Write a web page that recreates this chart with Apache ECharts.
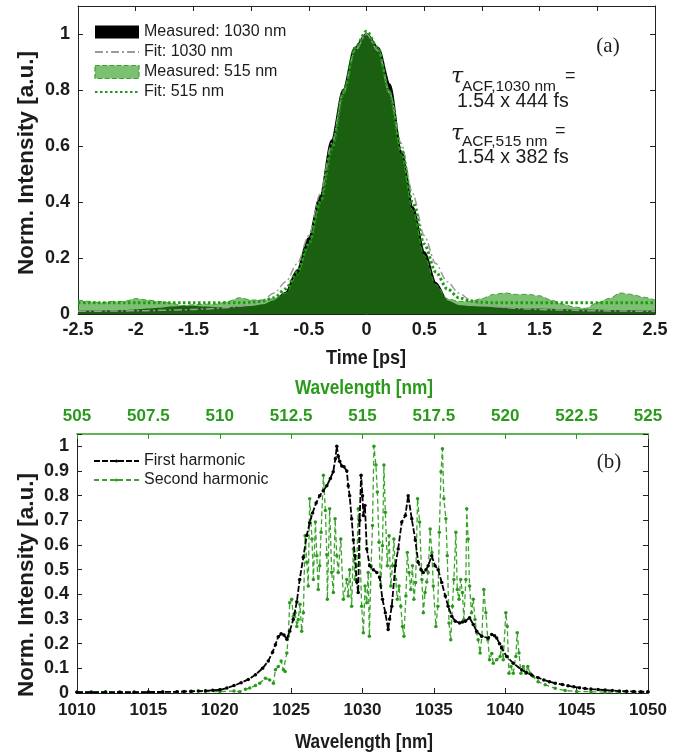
<!DOCTYPE html>
<html>
<head>
<meta charset="utf-8">
<script src="https://cdn.jsdelivr.net/npm/echarts@6/dist/echarts.min.js"></script>
<style>
  html, body { margin: 0; padding: 0; background: #fff; }
  #main { width: 686px; height: 755px; }
</style>
</head>
<body>
<div id="main"></div>
<script>
// ---- panel (a): autocorrelation ----
const timePs = [-2.5,-2.4,-2.3,-2.2,-2.1,-2.0,-1.9,-1.8,-1.7,-1.6,-1.5,-1.4,-1.3,-1.2,-1.1,-1.0,-0.9,-0.8,-0.7,-0.6,-0.5,-0.4,-0.3,-0.2,-0.1,0,
  0.1,0.2,0.3,0.4,0.5,0.6,0.7,0.8,0.9,1.0,1.1,1.2,1.3,1.4,1.5,1.6,1.7,1.8,1.9,2.0,2.1,2.2,2.3,2.4,2.5];
const meas1030 = [0.008,0.008,0.008,0.009,0.010,0.012,0.015,0.018,0.022,0.025,0.025,0.022,0.020,0.020,0.022,0.024,0.030,0.045,0.075,0.155,0.27,0.42,0.62,0.80,0.95,1.0,
  0.95,0.82,0.58,0.38,0.22,0.11,0.045,0.028,0.024,0.022,0.020,0.018,0.017,0.016,0.015,0.014,0.013,0.012,0.012,0.011,0.010,0.010,0.009,0.008,0.008];
const fit1030 = [0.010,0.010,0.010,0.011,0.011,0.012,0.012,0.013,0.014,0.015,0.016,0.018,0.020,0.023,0.028,0.035,0.050,0.075,0.115,0.18,0.28,0.43,0.61,0.79,0.94,1.0,
  0.94,0.79,0.61,0.43,0.28,0.18,0.115,0.075,0.050,0.035,0.028,0.023,0.020,0.018,0.016,0.015,0.014,0.013,0.012,0.012,0.011,0.011,0.010,0.010,0.010];
const meas515 = [0.05,0.045,0.04,0.045,0.045,0.055,0.05,0.045,0.04,0.03,0.033,0.035,0.035,0.045,0.058,0.05,0.05,0.055,0.075,0.14,0.25,0.40,0.60,0.80,0.95,1.0,
  0.95,0.80,0.57,0.37,0.21,0.105,0.055,0.045,0.045,0.055,0.07,0.075,0.07,0.07,0.065,0.05,0.035,0.025,0.02,0.04,0.055,0.075,0.07,0.06,0.05];
const fit515 = [0.04,0.04,0.04,0.04,0.04,0.04,0.04,0.04,0.04,0.04,0.04,0.04,0.04,0.04,0.04,0.042,0.046,0.058,0.09,0.15,0.25,0.40,0.59,0.79,0.95,1.01,
  0.95,0.79,0.59,0.40,0.25,0.15,0.09,0.058,0.046,0.042,0.04,0.04,0.04,0.04,0.04,0.04,0.04,0.04,0.04,0.04,0.04,0.04,0.04,0.04,0.04];

// ---- panel (b): spectra ----
// first harmonic, [wavelength nm, norm. intensity]
const fhPoints = [[1010,0.003],[1011,0.003],[1012,0.003],[1013,0.003],[1014,0.003],[1015,0.004],[1016,0.004],[1017,0.005],[1017.5,0.006],[1018,0.007],[1018.5,0.008],
  [1019,0.009],[1019.5,0.011],[1020,0.013],[1020.5,0.02],[1021,0.03],[1021.5,0.042],[1022,0.055],[1022.5,0.074],[1023,0.1],[1023.4,0.13],[1023.7,0.165],
  [1023.9,0.196],[1024.1,0.228],[1024.3,0.24],[1024.5,0.235],[1024.7,0.218],[1024.9,0.25],[1025.15,0.298],[1025.4,0.37],[1025.6,0.46],[1025.85,0.55],
  [1026.1,0.64],[1026.3,0.69],[1026.5,0.73],[1026.75,0.77],[1027.0,0.80],[1027.25,0.82],[1027.5,0.84],[1027.75,0.87],[1027.95,0.897],[1028.1,0.95],
  [1028.2,1.0],[1028.3,0.96],[1028.4,0.94],[1028.55,0.92],[1028.7,0.917],[1028.9,0.90],[1029.0,0.84],[1029.1,0.80],[1029.24,0.706],[1029.36,0.62],
  [1029.47,0.556],[1029.6,0.45],[1029.7,0.407],[1029.8,0.70],[1029.9,0.883],[1030.0,0.80],[1030.06,0.72],[1030.17,0.76],[1030.3,0.584],[1030.5,0.516],
  [1030.76,0.50],[1031.0,0.489],[1031.2,0.468],[1031.4,0.38],[1031.6,0.325],[1031.8,0.257],[1031.9,0.30],[1032.05,0.352],[1032.3,0.516],[1032.5,0.584],
  [1032.75,0.693],[1033.0,0.72],[1033.2,0.80],[1033.45,0.706],[1033.7,0.62],[1033.9,0.53],[1034.1,0.50],[1034.26,0.489],[1034.45,0.50],[1034.6,0.516],
  [1034.85,0.556],[1035.08,0.516],[1035.3,0.50],[1035.55,0.448],[1035.8,0.393],[1036.0,0.352],[1036.25,0.311],[1036.5,0.291],[1036.8,0.284],[1037.0,0.288],
  [1037.2,0.291],[1037.5,0.305],[1037.76,0.278],[1038.0,0.25],[1038.35,0.23],[1038.8,0.223],[1039.05,0.237],[1039.25,0.232],[1039.4,0.223],[1039.6,0.2],
  [1039.75,0.182],[1040.1,0.148],[1040.56,0.121],[1041.15,0.094],[1041.5,0.082],[1041.85,0.073],[1042.3,0.062],[1042.7,0.053],[1043.1,0.046],[1043.5,0.04],
  [1044.0,0.034],[1044.4,0.029],[1044.8,0.025],[1045.2,0.021],[1045.6,0.018],[1046,0.016],[1046.5,0.014],[1047,0.012],[1047.5,0.01],[1048,0.008],
  [1048.5,0.007],[1049,0.006],[1049.5,0.005],[1050,0.005]];
// second harmonic, [wavelength nm (top axis), norm. intensity]
const shPoints = [[505,0.005],[505.5,0.004],[506,0.005],[506.5,0.004],[507,0.004],[507.5,0.005],[508,0.005],[508.5,0.004],[509,0.005],[509.5,0.006],
  [510,0.006],[510.5,0.008],[510.7,0.005],[510.9,0.015],[511.05,0.02],
  [511.25,0.03],[511.4,0.04],[511.6,0.06],[511.75,0.053],[511.88,0.04],[511.95,0.094],[512.05,0.107],[512.15,0.13],[512.23,0.094],[512.29,0.087],
  [512.35,0.162],[512.4,0.23],[512.45,0.366],[512.52,0.38],[512.58,0.31],[512.64,0.325],[512.7,0.27],[512.75,0.298],[512.81,0.36],[512.87,0.25],
  [512.93,0.325],[512.99,0.638],[513.05,0.53],[513.1,0.434],[513.15,0.788],[513.23,0.624],[513.28,0.46],[513.35,0.693],[513.4,0.556],[513.45,0.42],
  [513.5,0.516],[513.55,0.652],[513.63,0.883],[513.7,0.74],[513.75,0.56],[513.77,0.38],[513.85,0.747],[513.92,0.49],[513.98,0.407],[514.04,0.706],
  [514.1,0.556],[514.15,0.489],[514.24,0.624],[514.33,0.38],[514.45,0.46],[514.5,0.393],[514.55,0.5],[514.62,0.352],[514.68,0.584],[514.74,0.46],
  [514.8,0.516],[514.85,0.747],[514.9,0.624],[514.97,0.352],[515.03,0.244],[515.09,0.434],[515.15,0.366],[515.2,0.489],[515.24,0.23],[515.3,0.516],
  [515.35,0.679],[515.4,1.0],[515.47,0.924],[515.52,0.815],[515.58,0.611],[515.64,0.434],[515.7,0.597],[515.75,0.924],[515.8,0.733],[515.87,0.516],
  [515.93,0.638],[515.99,0.434],[516.05,0.516],[516.1,0.624],[516.16,0.46],[516.22,0.38],[516.28,0.434],[516.34,0.352],[516.4,0.27],[516.45,0.23],
  [516.52,0.393],[516.57,0.57],[516.63,0.489],[516.69,0.42],[516.75,0.516],[516.8,0.38],[516.86,0.448],[516.93,0.788],[517.0,0.693],[517.08,0.46],
  [517.13,0.325],[517.19,0.407],[517.25,0.45],[517.3,0.489],[517.37,0.665],[517.43,0.57],[517.48,0.434],[517.57,0.27],[517.64,0.352],[517.69,0.652],
  [517.75,0.897],[517.8,0.99],[517.85,0.788],[517.92,0.706],[517.97,0.556],[518.03,0.284],[518.09,0.216],[518.15,0.352],[518.2,0.46],[518.27,0.652],
  [518.32,0.42],[518.38,0.38],[518.44,0.46],[518.5,0.407],[518.55,0.298],[518.62,0.46],[518.65,0.747],[518.7,0.624],[518.75,0.434],[518.82,0.325],
  [518.88,0.38],[518.94,0.298],[519.0,0.244],[519.05,0.216],[519.12,0.162],[519.18,0.23],[519.25,0.42],[519.32,0.325],[519.39,0.216],[519.45,0.135],
  [519.53,0.16],[519.58,0.121],[519.7,0.135],[519.82,0.148],[519.88,0.189],[519.93,0.135],[520.02,0.325],[520.07,0.27],[520.13,0.08],[520.2,0.107],
  [520.28,0.08],[520.37,0.148],[520.42,0.244],[520.48,0.162],[520.55,0.08],[520.63,0.107],[520.72,0.08],[520.79,0.107],[520.87,0.08],[520.98,0.067],
  [521.15,0.046],[521.4,0.033],[521.75,0.019],[522.1,0.01],[522.5,0.006],[523,0.005],[523.5,0.004],[524,0.004],[524.5,0.004],[525,0.004]];

const GREEN = '#2a9a1c';
const TXT = '#1c1c1c';
const SANS = "'Liberation Sans',Arial,sans-serif";

const chart = echarts.init(document.getElementById('main'), null, { renderer: 'canvas' });

function pairs(xs, ys) {
  return xs.map((x, i) => [x, ys[i]]);
}
function boxAxis(extra) {
  return Object.assign({
    type: 'value',
    splitLine: { show: false },
    axisLine: { onZero: false, lineStyle: { color: '#222', width: 1 } },
    axisTick: { inside: true, length: 5, lineStyle: { color: '#222' } },
    axisLabel: { show: false }
  }, extra);
}
function centered(x, y, text, font, fill, rot, sx) {
  return { type: 'text', x: x, y: y, rotation: rot || 0, scaleX: sx || 1,
    style: { text: text, font: font, fill: fill, align: 'center', verticalAlign: 'middle', textAlign: 'center', textVerticalAlign: 'middle' } };
}
function leftText(x, y, text, font) {
  return { type: 'text', x: x, y: y,
    style: { text: text, font: font, fill: TXT, verticalAlign: 'middle', textVerticalAlign: 'middle' } };
}

const option = {
  animation: false,
  backgroundColor: '#fff',
  grid: [
    { left: 78, top: 6, width: 577, height: 308 },
    { left: 77, top: 434, width: 571, height: 259 }
  ],
  xAxis: [
    boxAxis({ gridIndex: 0, position: 'bottom', min: -2.5, max: 2.5, interval: 0.5,
      axisLabel: { show: true, color: TXT, fontFamily: SANS, fontWeight: 'bold', fontSize: 18, margin: 7 } }),
    boxAxis({ gridIndex: 0, position: 'top', min: -2.5, max: 2.5, interval: 0.5 }),
    boxAxis({ gridIndex: 1, position: 'bottom', min: 1010, max: 1050, interval: 5,
      axisLabel: { show: true, color: TXT, fontFamily: SANS, fontWeight: 'bold', fontSize: 17, margin: 9,
        formatter: v => String(v) } }),
    boxAxis({ gridIndex: 1, position: 'top', min: 505, max: 525, interval: 2.5,
      axisLine: { onZero: false, lineStyle: { color: GREEN, width: 1.5 } },
      axisTick: { inside: true, length: 5, lineStyle: { color: GREEN } },
      axisLabel: { show: true, color: GREEN, fontFamily: SANS, fontWeight: 'bold', fontSize: 17, margin: 9,
        formatter: v => String(v) } })
  ],
  yAxis: [
    boxAxis({ gridIndex: 0, position: 'left', min: 0, max: 1.1, interval: 0.2,
      axisLabel: { show: true, color: TXT, fontFamily: SANS, fontWeight: 'bold', fontSize: 18, margin: 8,
        formatter: v => (v > 1.05 ? '' : String(Math.round(v * 10) / 10)) } }),
    boxAxis({ gridIndex: 0, position: 'right', min: 0, max: 1.1, interval: 0.2 }),
    boxAxis({ gridIndex: 1, position: 'left', min: 0, max: 1.05, interval: 0.1,
      axisLabel: { show: true, color: TXT, fontFamily: SANS, fontWeight: 'bold', fontSize: 18, margin: 8,
        formatter: v => (v > 1.02 ? '' : String(Math.round(v * 10) / 10)) } }),
    boxAxis({ gridIndex: 1, position: 'right', min: 0, max: 1.05, interval: 0.1 })
  ],
  legend: [
    {
      orient: 'vertical', left: 89, top: 19, itemWidth: 44, itemHeight: 13, itemGap: 4,
      selectedMode: false,
      textStyle: { fontFamily: SANS, fontSize: 16, color: TXT },
      data: [
        { name: 'Measured: 1030 nm', icon: 'rect', itemStyle: { color: '#000' } },
        { name: 'Fit: 1030 nm', itemStyle: { opacity: 0 } },
        { name: 'Measured: 515 nm', icon: 'rect',
          itemStyle: { color: 'rgba(44,155,28,0.62)', borderColor: '#3f9e30', borderWidth: 1.2, borderType: 'dashed' } },
        { name: 'Fit: 515 nm', itemStyle: { opacity: 0 } }
      ]
    },
    {
      orient: 'vertical', left: 88, top: 448, itemWidth: 45, itemHeight: 4, itemGap: 3,
      selectedMode: false,
      textStyle: { fontFamily: SANS, fontSize: 16, color: TXT },
      data: ['First harmonic', 'Second harmonic']
    }
  ],
  graphic: [
    centered(27, 163, 'Norm. Intensity [a.u.]', "bold 22.5px 'Liberation Sans', Arial", TXT, Math.PI / 2),
    centered(27, 585, 'Norm. Intensity [a.u.]', "bold 22.5px 'Liberation Sans', Arial", TXT, Math.PI / 2),
    centered(366, 358, 'Time [ps]', "bold 21px 'Liberation Sans', Arial", TXT, 0, 0.86),
    centered(364, 388, 'Wavelength [nm]', "bold 21px 'Liberation Sans', Arial", GREEN, 0, 0.82),
    centered(364, 742, 'Wavelength [nm]', "bold 21px 'Liberation Sans', Arial", TXT, 0, 0.82),
    centered(608, 46, '(a)', "21px 'Liberation Serif', 'Times New Roman', serif", TXT),
    centered(609, 462, '(b)', "21px 'Liberation Serif', 'Times New Roman', serif", TXT),
    // tau annotations
    leftText(451, 77, 'τ', "italic 22px 'DejaVu Serif', serif"),
    leftText(462, 87, 'ACF,1030 nm', "15.5px " + SANS),
    leftText(565, 76, '=', "18px " + SANS),
    leftText(457, 102, '1.54 x 444 fs', "19.5px " + SANS),
    leftText(451, 134, 'τ', "italic 22px 'DejaVu Serif', serif"),
    leftText(462, 142, 'ACF,515 nm', "15.5px " + SANS),
    leftText(555, 131, '=', "18px " + SANS),
    leftText(457, 158, '1.54 x 382 fs', "19.5px " + SANS)
  ],
  series: [
    {
      name: 'Measured: 1030 nm', type: 'line', xAxisIndex: 0, yAxisIndex: 0,
      data: pairs(timePs, meas1030), symbol: 'none', smooth: 0.3, smoothMonotone: 'x',
      color: '#000', lineStyle: { color: '#000', width: 2.5 },
      areaStyle: { color: '#000', opacity: 1 }, z: 2
    },
    {
      name: 'Measured: 515 nm', type: 'line', xAxisIndex: 0, yAxisIndex: 0,
      data: pairs(timePs, meas515), symbol: 'none', smooth: 0.3, smoothMonotone: 'x',
      color: 'rgba(44,155,28,0.62)', lineStyle: { color: '#3f9e30', width: 1, type: [5, 3] },
      areaStyle: { color: 'rgba(44,155,28,0.62)', opacity: 1 }, z: 3
    },
    {
      name: 'Fit: 1030 nm', type: 'line', xAxisIndex: 0, yAxisIndex: 0,
      data: pairs(timePs, fit1030), symbol: 'none', smooth: 0.3, smoothMonotone: 'x',
      color: '#9a9a9a', lineStyle: { color: '#9a9a9a', width: 1.5, type: [8, 3, 2, 3] }, z: 4
    },
    {
      name: 'Fit: 515 nm', type: 'line', xAxisIndex: 0, yAxisIndex: 0,
      data: pairs(timePs, fit515), symbol: 'none', smooth: 0.3, smoothMonotone: 'x',
      color: '#1f9a14', lineStyle: { color: '#1f9a14', width: 3, type: [2.5, 2.5] }, z: 5
    },
    {
      name: 'Second harmonic', type: 'line', xAxisIndex: 3, yAxisIndex: 2,
      data: shPoints, symbol: 'circle', symbolSize: 3.5, showAllSymbol: true,
      color: GREEN, itemStyle: { color: GREEN },
      lineStyle: { color: '#3aa52a', width: 1.3, type: [5, 3] }, z: 3
    },
    {
      name: 'First harmonic', type: 'line', xAxisIndex: 2, yAxisIndex: 2,
      data: fhPoints, symbol: 'circle', symbolSize: 3.5, showAllSymbol: true,
      color: '#000', itemStyle: { color: '#000' },
      lineStyle: { color: '#000', width: 1.8, type: [6, 2] }, z: 4
    }
  ]
};

chart.setOption(option);
</script>
</body>
</html>
